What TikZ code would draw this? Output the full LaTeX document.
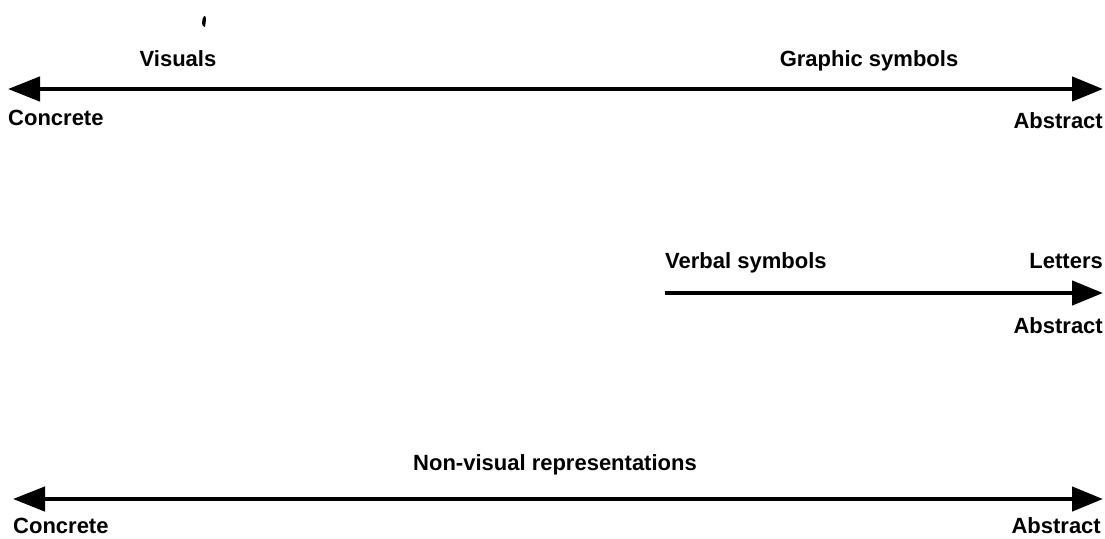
\documentclass[tikz,border=0pt]{standalone}
\usepackage{fontspec}
\setmainfont{Liberation Sans}
\usetikzlibrary{arrows.meta}
\begin{document}
\begin{tikzpicture}[x=1pt,y=-1pt,
  lbl/.style={font=\fontsize{22}{25}\selectfont\bfseries, inner sep=0pt, anchor=base},
  lblL/.style={lbl, anchor=base west},
  lblR/.style={lbl, anchor=base east},
  scale line/.style={line width=4.5pt, -{Triangle[length=31pt,width=24pt]}},
  both line/.style={line width=4.5pt, {Triangle[length=32pt,width=24pt]}-{Triangle[length=31pt,width=24pt]}}]
  \useasboundingbox (0,0) rectangle (1105,538);

  % small stray stroke above the first label
  \fill (204,16) .. controls (207,16) and (206,20) .. (205,27)
        .. controls (203,27) and (202,25) .. (202,23)
        .. controls (202,20) and (203,17) .. (204,16) -- cycle;

  % first scale: visuals to graphic symbols
  \coordinate (v1) at (8,89);
  \coordinate (v2) at (1103,89);
  \draw[both line] (v1) -- (v2);
  \node[lbl] (visuals) at (178,66) {Visuals};
  \node[lbl] (graphic) at (869,66) {Graphic symbols};
  \node[lblL] (concA) at (8,125) {Concrete};
  \node[lblR] (absA) at (1103,128) {Abstract};

  % second scale: verbal symbols
  \coordinate (w1) at (665,293);
  \coordinate (w2) at (1103,293);
  \draw[scale line] (w1) -- (w2);
  \node[lblL] (verbal) at (665,268) {Verbal symbols};
  \node[lblR] (letters) at (1103,268) {Letters};
  \node[lblR] (absB) at (1103,333) {Abstract};

  % third scale: non-visual representations
  \coordinate (n1) at (13,499);
  \coordinate (n2) at (1103,499);
  \draw[both line] (n1) -- (n2);
  \node[lbl] (nonvis) at (555,470) {Non-visual representations};
  \node[lblL] (concC) at (13,533) {Concrete};
  \node[lblR] (absC) at (1101,533) {Abstract};
\end{tikzpicture}
\end{document}
